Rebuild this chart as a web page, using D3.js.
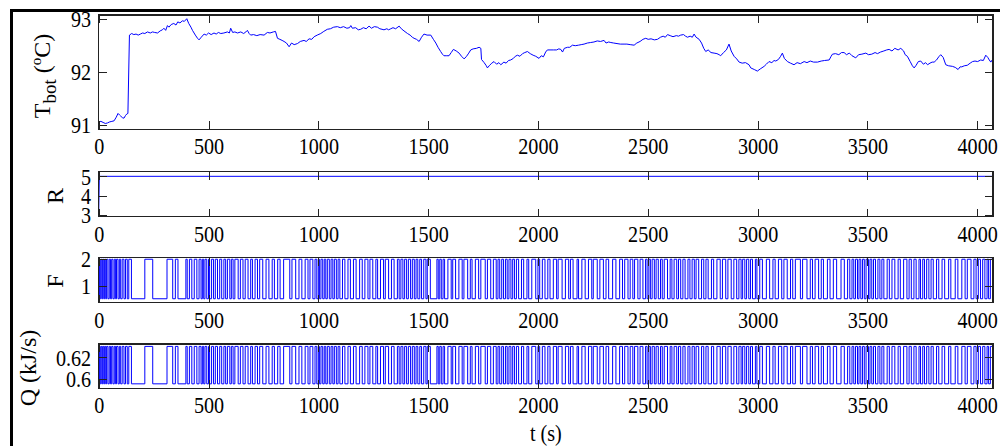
<!DOCTYPE html>
<html lang="en">
<head>
<meta charset="utf-8">
<title>Column response: Tbot, R, F, Q</title>
<script src="https://d3js.org/d3.v7.min.js"></script>
<style>
    html, body {
        margin: 0;
        padding: 0;
        background: #fff;
    }
    text {
        font-family: "Liberation Serif", "DejaVu Serif", serif;
        fill: #000;
    }
    .axis line {
        stroke: #222;
        shape-rendering: crispEdges;
    }
    .axis path {
        display: none;
    }
    rect.box {
        fill: none;
        stroke: #222;
        stroke-width: 1.2;
        shape-rendering: crispEdges;
    }
    path.line {
        fill: none;
        stroke: #0000ff;
        stroke-width: 1;
    }
</style>
</head>
<body>
<script>

// ---- data ----
var tMax = 4072;
var xTicks = [0, 500, 1000, 1500, 2000, 2500, 3000, 3500, 4000];

// bottom temperature (time in s, value in degC)
var tbotT = [0, 10, 20, 30, 40, 50, 60, 70, 80, 88, 95, 100, 108, 115, 122, 128, 133,
    140, 150, 160, 170, 180, 190, 200, 210, 222, 235, 245, 255, 268, 280, 290, 297, 305,
    313, 320, 330, 342, 352, 360, 370, 381, 390, 401, 410, 420, 427, 440, 450, 457, 467,
    480, 490, 500, 512, 525, 535, 545, 556, 570, 586, 595, 601, 610, 620, 632, 647, 660,
    670, 677, 685, 692, 705, 720, 735, 753, 768, 780, 795, 805, 814, 825, 835, 844, 855,
    867, 878, 890, 905, 918, 935, 945, 958, 970, 981, 995, 1011, 1025, 1041, 1055, 1070,
    1087, 1100, 1115, 1130, 1142, 1148, 1155, 1170, 1182, 1193, 1205, 1218, 1231, 1242,
    1255, 1269, 1280, 1290, 1299, 1312, 1320, 1330, 1340, 1352, 1368, 1378, 1390, 1406,
    1418, 1428, 1436, 1447, 1459, 1470, 1481, 1495, 1512, 1524, 1535, 1545, 1557, 1565,
    1572, 1585, 1595, 1605, 1615, 1628, 1641, 1652, 1664, 1675, 1685, 1694, 1705, 1720,
    1732, 1740, 1743, 1755, 1765, 1770, 1780, 1790, 1800, 1812, 1822, 1831, 1845, 1855,
    1866, 1876, 1888, 1897, 1907, 1918, 1930, 1940, 1952, 1965, 1978, 1990, 2005, 2015,
    2025, 2035, 2043, 2055, 2070, 2085, 2095, 2104, 2112, 2120, 2135, 2145, 2157, 2170,
    2185, 2197, 2210, 2225, 2240, 2255, 2270, 2285, 2301, 2310, 2322, 2332, 2345, 2360,
    2375, 2392, 2405, 2420, 2438, 2450, 2465, 2478, 2491, 2502, 2515, 2530, 2544, 2558,
    2570, 2580, 2590, 2602, 2615, 2630, 2640, 2650, 2663, 2672, 2681, 2693, 2703, 2711,
    2720, 2734, 2745, 2755, 2764, 2775, 2788, 2802, 2815, 2825, 2832, 2845, 2858, 2870,
    2880, 2893, 2905, 2916, 2930, 2945, 2961, 2969, 2985, 2999, 3012, 3030, 3040, 3052,
    3065, 3075, 3083, 3095, 3105, 3113, 3122, 3136, 3150, 3166, 3180, 3195, 3212, 3225,
    3240, 3255, 3273, 3290, 3305, 3326, 3335, 3341, 3355, 3370, 3382, 3394, 3405, 3418,
    3430, 3447, 3460, 3475, 3493, 3505, 3520, 3535, 3546, 3560, 3575, 3588, 3599, 3612,
    3625, 3640, 3652, 3665, 3672, 3682, 3695, 3705, 3713, 3722, 3732, 3743, 3755, 3765,
    3774, 3785, 3795, 3804, 3815, 3825, 3834, 3845, 3857, 3870, 3887, 3900, 3913, 3922,
    3930, 3941, 3955, 3968, 3979, 3990, 4002, 4016, 4028, 4039, 4048, 4055, 4062, 4070];
var tbotV = [91.06, 91.07, 91.05, 91.03, 91.04, 91.06, 91.07, 91.08, 91.15, 91.22, 91.19,
    91.17, 91.14, 91.13, 91.18, 91.21, 91.22,
    92.70, 92.73, 92.71, 92.72, 92.70, 92.72, 92.74, 92.73, 92.76, 92.74, 92.76, 92.75,
    92.74, 92.78, 92.80, 92.83, 92.79, 92.88, 92.85, 92.90, 92.92, 92.89, 92.95, 92.93,
    92.97, 92.96, 93.01, 92.92, 92.85, 92.79, 92.70, 92.64, 92.61, 92.66, 92.72, 92.70,
    92.74, 92.71, 92.74, 92.72, 92.75, 92.73, 92.74, 92.76, 92.74, 92.83, 92.75, 92.76,
    92.74, 92.76, 92.73, 92.76, 92.79, 92.73, 92.70, 92.71, 92.69, 92.71, 92.70, 92.75,
    92.74, 92.76, 92.77, 92.64, 92.62, 92.60, 92.58, 92.55, 92.48, 92.55, 92.52, 92.54,
    92.58, 92.60, 92.58, 92.63, 92.62, 92.67, 92.70, 92.73, 92.77, 92.81, 92.82, 92.85,
    92.86, 92.84, 92.86, 92.83, 92.84, 92.88, 92.83, 92.84, 92.80, 92.81, 92.84, 92.82,
    92.87, 92.83, 92.86, 92.85, 92.82, 92.81, 92.80, 92.82, 92.80, 92.82, 92.84, 92.82,
    92.87, 92.82, 92.78, 92.73, 92.70, 92.66, 92.64, 92.62, 92.58, 92.66, 92.72, 92.70,
    92.70, 92.62, 92.55, 92.47, 92.39, 92.34, 92.31, 92.31, 92.31, 92.37, 92.43, 92.40,
    92.36, 92.30, 92.25, 92.30, 92.36, 92.42, 92.44, 92.45, 92.47, 92.45, 92.24, 92.18,
    92.12, 92.08, 92.13, 92.17, 92.20, 92.15, 92.18, 92.14, 92.19, 92.17, 92.22, 92.23,
    92.26, 92.30, 92.32, 92.30, 92.35, 92.37, 92.39, 92.35, 92.32, 92.30, 92.26, 92.31,
    92.29, 92.38, 92.42, 92.42, 92.42, 92.42, 92.44, 92.43, 92.38, 92.45, 92.47, 92.47,
    92.51, 92.50, 92.51, 92.52, 92.53, 92.55, 92.56, 92.57, 92.59, 92.58, 92.60, 92.55,
    92.57, 92.56, 92.55, 92.54, 92.53, 92.53, 92.53, 92.52, 92.51, 92.55, 92.58, 92.62,
    92.64, 92.62, 92.63, 92.61, 92.62, 92.66, 92.68, 92.66, 92.71, 92.69, 92.67, 92.69,
    92.68, 92.70, 92.71, 92.68, 92.66, 92.68, 92.66, 92.72, 92.66, 92.62, 92.55, 92.45,
    92.39, 92.42, 92.37, 92.36, 92.35, 92.33, 92.31, 92.37, 92.42, 92.53, 92.40, 92.30,
    92.25, 92.19, 92.17, 92.18, 92.14, 92.08, 92.05, 92.02, 92.06, 92.11, 92.15, 92.20,
    92.18, 92.22, 92.21, 92.24, 92.30, 92.36, 92.26, 92.20, 92.17, 92.14, 92.18, 92.16,
    92.20, 92.18, 92.21, 92.19, 92.19, 92.21, 92.22, 92.23, 92.30, 92.34, 92.35, 92.33,
    92.37, 92.37, 92.33, 92.36, 92.31, 92.27, 92.33, 92.34, 92.36, 92.33, 92.34, 92.37,
    92.35, 92.38, 92.40, 92.42, 92.43, 92.40, 92.45, 92.42, 92.45, 92.40, 92.33, 92.30,
    92.20, 92.12, 92.08, 92.13, 92.20, 92.21, 92.15, 92.18, 92.14, 92.17, 92.19, 92.19,
    92.23, 92.29, 92.33, 92.28, 92.14, 92.12, 92.11, 92.09, 92.05, 92.10, 92.10, 92.12,
    92.13, 92.17, 92.20, 92.21, 92.20, 92.23, 92.22, 92.32, 92.28, 92.23, 92.19, 92.24];

// reflux ratio
var rT = [0, 3, 4072];
var rV = [3, 5, 5];

// switching instants of the two binary inputs (they flip together)
var switchT = [4, 9, 14, 18, 23, 27, 32, 36, 42, 48, 54, 59, 65, 71, 77, 81, 88, 94,
    100, 107, 115, 122, 130, 137, 149, 210, 246, 311, 337, 349, 361, 397, 403, 413, 424,
    435, 447, 457, 466, 472, 478, 484, 492, 500,
    505, 514, 523, 531, 541, 551, 560, 570, 578, 586, 597, 604, 612, 620, 635, 645, 657,
    667, 680, 692, 700, 712, 723, 733, 747, 762, 775, 790, 800, 815, 826, 842, 870, 880,
    897, 912, 925, 940, 953, 962, 975, 985, 993, 1000,
    1005, 1012, 1020, 1027, 1034, 1041, 1050, 1058, 1066, 1073, 1082, 1090, 1098, 1110,
    1121, 1135, 1146, 1160, 1172, 1188, 1200, 1212, 1226, 1235, 1248, 1262, 1270, 1283,
    1297, 1305, 1320, 1333, 1345, 1360, 1368, 1376, 1385, 1393, 1402, 1410, 1420, 1428,
    1437, 1445, 1453, 1462, 1470, 1480, 1490, 1496,
    1510, 1540, 1546, 1553, 1560, 1568, 1575, 1590, 1605, 1612, 1625, 1640, 1655, 1663,
    1680, 1692, 1700, 1715, 1730, 1740, 1760, 1770, 1785, 1797, 1810, 1818, 1826, 1835,
    1843, 1852, 1860, 1868, 1877, 1885, 1893, 1902, 1912, 1925, 1935, 1950, 1958, 1972,
    1990, 2000,
    2008, 2020, 2032, 2045, 2055, 2070, 2085, 2092, 2110, 2125, 2140, 2148, 2160, 2178,
    2185, 2200, 2215, 2230, 2245, 2252, 2270, 2282, 2298, 2310, 2322, 2340, 2355, 2372,
    2385, 2395, 2410, 2420, 2432, 2440, 2455, 2465, 2478, 2490, 2497,
    2505, 2512, 2520, 2530, 2538, 2548, 2558, 2566, 2575, 2590, 2602, 2610, 2620, 2632,
    2640, 2650, 2660, 2670, 2683, 2692, 2702, 2712, 2720, 2732, 2745, 2755, 2765, 2775,
    2790, 2800, 2815, 2830, 2840, 2855, 2865, 2880, 2892, 2905, 2915, 2925, 2932, 2942,
    2950, 2960, 2968, 2977, 2990, 2997,
    3010, 3022, 3040, 3055, 3070, 3080, 3095, 3110, 3120, 3135, 3150, 3160, 3172, 3195,
    3205, 3225, 3240, 3250, 3262, 3278, 3290, 3300, 3318, 3330, 3345, 3360, 3380, 3395,
    3410, 3420, 3430, 3438, 3446, 3455, 3462, 3470, 3478, 3486, 3494,
    3505, 3512, 3520, 3528, 3537, 3548, 3557, 3566, 3575, 3590, 3600, 3612, 3625, 3640,
    3650, 3665, 3680, 3690, 3700, 3712, 3722, 3735, 3742, 3752, 3760, 3770, 3780, 3790,
    3800, 3815, 3825, 3840, 3852, 3870, 3880, 3900, 3912, 3930, 3945, 3955, 3972, 3985,
    3995, 4005, 4015, 4025, 4035, 4045, 4052, 4060];
var fLevels = [2, 0.5];          // high, low
var qLevels = [0.6302, 0.5958];  // high, low

var tbotTicks = [91, 92, 93];
var rTicks = [3, 4, 5];
var fTicks = [1, 2];
var qTicks = [0.6, 0.62];

// ---- layout ----
var w = 1000, h = 446;
var left = 98.7, right = 993;
var tick = 8;
var serif = '"Liberation Serif", "DejaVu Serif", serif';
var squeeze = "scale(0.84,1)";   // the figure's lettering is a bit narrow

function stepSeries(levels) {
    var pts = [[0, levels[0]]];
    switchT.forEach(function(t, i) {
        pts.push([t, levels[(i + 1) % 2]]);
    });
    pts.push([tMax, levels[switchT.length % 2]]);
    return pts;
}

var panels = [
    { top: 15, bottom: 129.3, domain: [90.92, 93.08], ticks: tbotTicks,
      data: tbotT.map(function(t, i) { return [t, tbotV[i]]; }), curve: d3.curveLinear },
    { top: 171.5, bottom: 216.8, domain: [2.9, 5.25], ticks: rTicks,
      data: rT.map(function(t, i) { return [t, rV[i]]; }), curve: d3.curveLinear },
    { top: 257.8, bottom: 302.7, domain: [0.35, 2.055], ticks: fTicks,
      data: stepSeries(fLevels), curve: d3.curveStepAfter },
    { top: 344, bottom: 388.3, domain: [0.5917, 0.6324], ticks: qTicks,
      data: stepSeries(qLevels), curve: d3.curveStepAfter }
];

var svg = d3.select("body")
    .append("svg")
    .attr("width", w)
    .attr("height", h);

svg.append("rect").attr("width", w).attr("height", h).attr("fill", "#fff");

// outer figure frame (only its top and left edges are inside the picture)
svg.append("path")
    .attr("d", "M11.5," + h + "V10.5H" + w)
    .attr("fill", "none")
    .attr("stroke", "#000")
    .attr("stroke-width", 3);

var xScale = d3.scaleLinear().domain([0, tMax]).range([left, right]);

panels.forEach(function(p) {
    var yScale = d3.scaleLinear().domain(p.domain).range([p.bottom, p.top]);
    var g = svg.append("g");

    var line = d3.line()
        .x(function(d) { return xScale(d[0]); })
        .y(function(d) { return yScale(d[1]); })
        .curve(p.curve);

    g.append("path")
        .datum(p.data)
        .attr("class", "line")
        .attr("d", line);

    g.append("g")
        .attr("class", "axis xb")
        .attr("transform", "translate(0," + p.bottom + ")")
        .call(d3.axisBottom(xScale).tickValues(xTicks).tickSize(-tick).tickPadding(8)
            .tickFormat(function(d) { return d; }));

    g.append("g")
        .attr("class", "axis")
        .attr("transform", "translate(0," + p.top + ")")
        .call(d3.axisTop(xScale).tickValues(xTicks).tickSize(-tick).tickFormat(""));

    g.append("g")
        .attr("class", "axis yl")
        .attr("transform", "translate(" + left + ",0)")
        .call(d3.axisLeft(yScale).tickValues(p.ticks).tickSize(-tick).tickPadding(9)
            .tickFormat(function(d) { return d; }));

    g.append("g")
        .attr("class", "axis")
        .attr("transform", "translate(" + right + ",0)")
        .call(d3.axisRight(yScale).tickValues(p.ticks).tickSize(-tick).tickFormat(""));

    g.append("rect")
        .attr("class", "box")
        .attr("x", left)
        .attr("y", p.top)
        .attr("width", right - left)
        .attr("height", p.bottom - p.top);
});

svg.selectAll(".axis").attr("font-family", null).attr("font-size", null);
svg.selectAll(".axis text")
    .style("font-family", serif)
    .style("font-size", "24px")
    .attr("fill", "#000")
    .attr("transform", squeeze);

// y-axis titles
var tl = svg.append("text")
    .attr("transform", "translate(50,76) rotate(-90)")
    .attr("text-anchor", "middle")
    .style("font-size", "24px");
tl.append("tspan").text("T");
tl.append("tspan").attr("dy", 6).style("font-size", "19px").text("bot");
tl.append("tspan").attr("dy", -6).text(" (");
tl.append("tspan").attr("dy", -9).style("font-size", "15px").text("o");
tl.append("tspan").attr("dy", 9).text("C)");

svg.append("text")
    .attr("transform", "translate(63,196) rotate(-90)")
    .attr("text-anchor", "middle")
    .style("font-size", "24px")
    .text("R");

svg.append("text")
    .attr("transform", "translate(63,281) rotate(-90)")
    .attr("text-anchor", "middle")
    .style("font-size", "24px")
    .text("F");

svg.append("text")
    .attr("transform", "translate(36,368) rotate(-90)")
    .attr("text-anchor", "middle")
    .style("font-size", "24px")
    .text("Q (kJ/s)");

svg.append("text")
    .attr("transform", "translate(" + ((left + right) / 2) + ",441) " + squeeze)
    .attr("text-anchor", "middle")
    .style("font-size", "24px")
    .text("t (s)");

</script>
</body>
</html>
